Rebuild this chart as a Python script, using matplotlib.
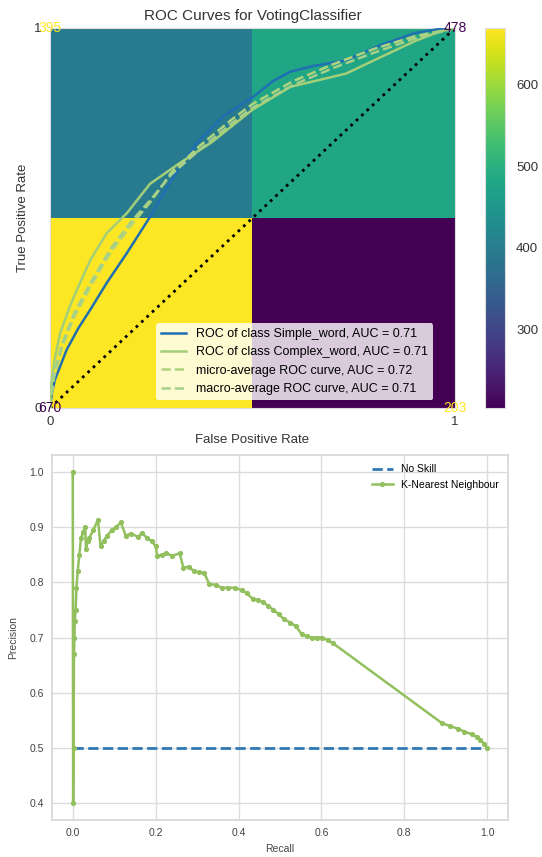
import matplotlib
matplotlib.use("Agg")
import matplotlib.pyplot as plt
import numpy as np

plt.rcParams['font.family'] = ['Liberation Sans', 'DejaVu Sans']

# ---------------- data ----------------
# confusion-matrix style heat values, rows: y=0 (bottom), y=1 (top); cols: x=0, x=1
heat_bottom = [670, 203]
heat_top = [395, 478]

roc_simple_fpr = [0.0, 0.005, 0.012, 0.041, 0.07, 0.099, 0.14, 0.19, 0.247, 0.30, 0.362,
                  0.43, 0.502, 0.55, 0.593, 0.65, 0.731, 0.816, 0.902, 0.978, 1.0]
roc_simple_tpr = [0.0, 0.04, 0.074, 0.153, 0.21, 0.258, 0.329, 0.408, 0.503, 0.60, 0.697,
                  0.77, 0.819, 0.86, 0.885, 0.90, 0.915, 0.955, 0.987, 1.0, 1.0]

roc_complex_fpr = [0.0, 0.003, 0.01, 0.025, 0.05, 0.074, 0.10, 0.14, 0.19, 0.247, 0.321,
                   0.40, 0.50, 0.593, 0.731, 0.82, 0.90, 0.96, 1.0]
roc_complex_tpr = [0.0, 0.06, 0.12, 0.197, 0.27, 0.329, 0.39, 0.46, 0.513, 0.59, 0.645,
                   0.70, 0.785, 0.845, 0.880, 0.925, 0.965, 0.99, 1.0]

roc_micro_fpr = [0.0, 0.01, 0.03, 0.06, 0.10, 0.15, 0.20, 0.25, 0.30, 0.37, 0.45, 0.50,
                 0.60, 0.70, 0.80, 0.90, 1.0]
roc_micro_tpr = [0.0, 0.08, 0.16, 0.24, 0.32, 0.41, 0.48, 0.545, 0.62, 0.69, 0.76, 0.80,
                 0.86, 0.905, 0.945, 0.978, 1.0]

roc_macro_fpr = [0.0, 0.01, 0.03, 0.06, 0.10, 0.15, 0.20, 0.25, 0.30, 0.37, 0.45, 0.50,
                 0.60, 0.70, 0.80, 0.90, 1.0]
roc_macro_tpr = [0.0, 0.09, 0.17, 0.25, 0.33, 0.42, 0.49, 0.55, 0.615, 0.68, 0.75, 0.79,
                 0.85, 0.895, 0.935, 0.972, 1.0]

roc_labels = ["ROC of class Simple_word, AUC = 0.71",
              "ROC of class Complex_word, AUC = 0.71",
              "micro-average ROC curve, AUC = 0.72",
              "macro-average ROC curve, AUC = 0.71"]

pr_recall = [0.000, 0.001, 0.002, 0.003, 0.004, 0.005, 0.007, 0.009, 0.012, 0.016,
             0.020, 0.025, 0.030, 0.032, 0.036, 0.040, 0.050, 0.061, 0.067, 0.075,
             0.082, 0.095, 0.105, 0.116, 0.128, 0.140, 0.158, 0.166, 0.180, 0.191,
             0.200, 0.204, 0.215, 0.225, 0.240, 0.258, 0.267, 0.280, 0.292, 0.305,
             0.317, 0.329, 0.345, 0.359, 0.375, 0.392, 0.409, 0.420, 0.434, 0.447,
             0.459, 0.472, 0.484, 0.497, 0.510, 0.525, 0.539, 0.552, 0.565, 0.577,
             0.590, 0.602, 0.615, 0.627, 0.891, 0.910, 0.929, 0.945, 0.962, 0.975,
             0.983, 0.992, 1.000]
pr_precision = [1.00, 0.40, 0.50, 0.67, 0.70, 0.73, 0.75, 0.79, 0.82, 0.85,
                0.88, 0.89, 0.90, 0.86, 0.875, 0.88, 0.895, 0.913, 0.865, 0.875,
                0.883, 0.895, 0.90, 0.908, 0.884, 0.888, 0.882, 0.889, 0.880, 0.874,
                0.865, 0.847, 0.850, 0.852, 0.848, 0.852, 0.826, 0.828, 0.820, 0.818,
                0.817, 0.797, 0.795, 0.790, 0.790, 0.790, 0.785, 0.780, 0.770, 0.768,
                0.764, 0.757, 0.750, 0.742, 0.733, 0.727, 0.720, 0.706, 0.702, 0.700,
                0.700, 0.700, 0.695, 0.690, 0.545, 0.540, 0.535, 0.530, 0.525, 0.520,
                0.515, 0.508, 0.500]
no_skill_x = [0.0, 1.0]
no_skill_y = [0.5, 0.5]

# ---------------- figure ----------------
W, H = 542, 857
fig = plt.figure(figsize=(W / 100, H / 100), dpi=100)

ax1 = fig.add_axes([50 / W, 1 - 408 / H, 405 / W, 380 / H])
cax = fig.add_axes([485 / W, 1 - 408 / H, 20 / W, 380 / H])
ax2 = fig.add_axes([52 / W, 1 - 820 / H, 456 / W, 365 / H])

heat = np.array([heat_bottom, heat_top])
vmin, vmax = heat.min(), heat.max()
im = ax1.imshow(heat, cmap='viridis', origin='lower', extent=[-0.5, 1.5, -0.5, 1.5],
                aspect='auto', vmin=vmin, vmax=vmax, zorder=0)
cmap = plt.get_cmap('viridis')
mid = (vmin + vmax) / 2
for i in range(2):
    for j in range(2):
        v = heat[i, j]
        col = cmap(0.0) if v > mid else cmap(1.0)
        ax1.text(j, i, str(v), ha='center', va='center', fontsize=10, color=col,
                 clip_on=False, zorder=5)

blue = '#1f6fb2'
green = '#a3cf78'
ax1.plot(roc_simple_fpr, roc_simple_tpr, color=blue, lw=1.8, label=roc_labels[0], zorder=3)
ax1.plot(roc_complex_fpr, roc_complex_tpr, color=green, lw=1.8, label=roc_labels[1], zorder=3)
ax1.plot(roc_micro_fpr, roc_micro_tpr, color='#b0d47e', lw=1.8, ls='--', label=roc_labels[2], zorder=3)
ax1.plot(roc_macro_fpr, roc_macro_tpr, color='#a6d08a', lw=1.8, ls='--', label=roc_labels[3], zorder=3)
ax1.plot([0, 1], [0, 1], color='black', ls=':', lw=2, zorder=2)

ax1.set_xlim(0, 1)
ax1.set_ylim(0, 1)
ax1.set_xticks([0, 1])
ax1.set_yticks([0, 1])
ax1.set_xticklabels(['0', '1'])
ax1.set_yticklabels(['0', '1'])
ax1.tick_params(length=0, labelsize=9.5, colors='#333333', pad=6)
for s in ax1.spines.values():
    s.set_color('#dddddd')
ax1.set_title('ROC Curves for VotingClassifier', fontsize=11, color='#333333', pad=6)
ax1.set_xlabel('False Positive Rate', fontsize=9.5, color='#333333', labelpad=4)
ax1.set_ylabel('True Positive Rate', fontsize=9.5, color='#333333', labelpad=4)
leg1 = ax1.legend(loc='lower right', bbox_to_anchor=((433 - 50) / 405, (408 - 400) / 380),
                  borderaxespad=0, fontsize=9, framealpha=0.8, edgecolor='none',
                  fancybox=True, facecolor='white')

cb = fig.colorbar(im, cax=cax)
cb.set_ticks([300, 400, 500, 600])
cb.ax.tick_params(length=0, labelsize=9.5, colors='#333333', pad=8)
cb.outline.set_edgecolor('#dddddd')

# ---------------- PR curve ----------------
ax2.set_facecolor('white')
ax2.grid(True, color='#dcdcdc', lw=1)
ax2.set_axisbelow(True)
ax2.plot(no_skill_x, no_skill_y, ls='--', color='#2f78b4', lw=2, label='No Skill')
ax2.plot(pr_recall, pr_precision, marker='.', color='#92c05e', lw=1.8, ms=5.5,
         label='K-Nearest Neighbour')
ax2.set_xticks([0.0, 0.2, 0.4, 0.6, 0.8, 1.0])
ax2.set_yticks([0.4, 0.5, 0.6, 0.7, 0.8, 0.9, 1.0])
ax2.xaxis.set_major_formatter(matplotlib.ticker.FormatStrFormatter('%.1f'))
ax2.yaxis.set_major_formatter(matplotlib.ticker.FormatStrFormatter('%.1f'))
ax2.tick_params(length=0, labelsize=7.5, colors='#444444', pad=6)
for s in ax2.spines.values():
    s.set_color('#d5d5d5')
    s.set_linewidth(1.2)
ax2.set_xlabel('Recall', fontsize=7.5, color='#444444', labelpad=4)
ax2.set_ylabel('Precision', fontsize=7.5, color='#444444', labelpad=8)
ax2.legend(loc='upper right', frameon=False, fontsize=7.5)

fig.savefig('out.png', dpi=100)
